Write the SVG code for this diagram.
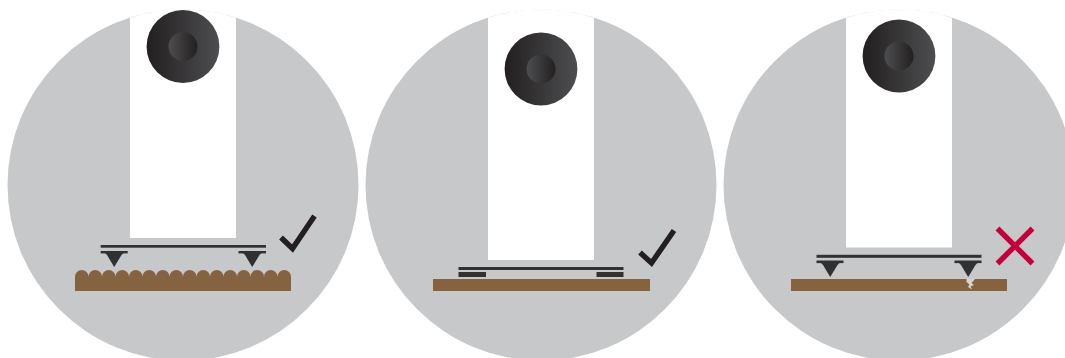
<svg xmlns="http://www.w3.org/2000/svg" width="1065" height="358" viewBox="0 0 1065 358">
<style>
.disc{fill:#c7c8ca}
.slot{fill:#fff}
.wood{fill:#856240}
.steel{fill:#303132}
.check{fill:none;stroke:#231f20;stroke-width:5.4}
.cross{fill:none;stroke:#c4003a;stroke-width:5.4}
</style>
<defs>
<linearGradient id="outer" x1="0" x2="1" y1="0" y2="0"><stop offset="0" stop-color="#231f20"/><stop offset="1" stop-color="#4d4e50"/></linearGradient>
<linearGradient id="inner" x1="0" x2="1" y1="0" y2="0"><stop offset="0" stop-color="#4d4e50"/><stop offset="1" stop-color="#231f20"/></linearGradient>
<g id="ball"><circle r="36.4" fill="url(#outer)"/><circle r="14.5" fill="url(#inner)"/></g>
</defs>
<g id="panel-1">
<circle class="disc" cx="183" cy="185" r="175.5"/>
<path class="slot" d="M130,17.7A175.5,175.5 0 0 1 236,17.7V238H130Z"/>
<use href="#ball" x="183" y="46.5"/>
<rect class="steel" x="100.7" y="245" width="165.3" height="2.7"/>
<rect class="steel" x="100.7" y="251" width="27" height="2.4"/>
<rect class="steel" x="238.5" y="251" width="27.5" height="2.4"/>
<path class="steel" d="M105,253H123.5L121.5,255L114.2,267L107,255Z"/>
<path class="steel" d="M243,253H261.5L259.5,255L252.2,267L245,255Z"/>
<path class="wood" d="M75,291V276.5A6.75,6.5 0 0 1 88.5,276.5A6.75,6.5 0 0 1 102,276.5A6.75,6.5 0 0 1 115.5,276.5A6.75,6.5 0 0 1 129,276.5A6.75,6.5 0 0 1 142.5,276.5A6.75,6.5 0 0 1 156,276.5A6.75,6.5 0 0 1 169.5,276.5A6.75,6.5 0 0 1 183,276.5A6.75,6.5 0 0 1 196.5,276.5A6.75,6.5 0 0 1 210,276.5A6.75,6.5 0 0 1 223.5,276.5A6.75,6.5 0 0 1 237,276.5A6.75,6.5 0 0 1 250.5,276.5A6.75,6.5 0 0 1 264,276.5A6.75,6.5 0 0 1 277.5,276.5A6.75,6.5 0 0 1 291,276.5V291Z"/>
<path class="check" d="M281,237.5L292.5,248.5L314.5,216"/>
</g>
<g id="panel-2">
<circle class="disc" cx="541" cy="185" r="175.5"/>
<path class="slot" d="M488,17.7A175.5,175.5 0 0 1 594,17.7V260H488Z"/>
<use href="#ball" x="541" y="69"/>
<rect class="steel" x="458.5" y="267" width="165" height="3"/>
<rect class="steel" x="458.5" y="272" width="27.5" height="5"/>
<rect class="steel" x="596.5" y="272" width="27" height="5"/>
<rect class="wood" x="433" y="279" width="217" height="12"/>
<path class="check" d="M640,252.5L651.5,263L674,230.5"/>
</g>
<g id="panel-3">
<circle class="disc" cx="899" cy="185" r="175.5"/>
<path class="slot" d="M846,17.7A175.5,175.5 0 0 1 952,17.7V247.5H846Z"/>
<use href="#ball" x="899" y="56"/>
<rect class="steel" x="816.5" y="254.8" width="165" height="3"/>
<rect class="steel" x="816.5" y="260.5" width="27" height="2.6"/>
<rect class="steel" x="954.5" y="260.5" width="27" height="2.6"/>
<path class="steel" d="M821,263H839.5L837.5,265L830.2,277L823,265Z"/>
<path class="steel" d="M959,263H977.5L975.5,265L968.2,277L961,265Z"/>
<rect class="wood" x="791" y="279" width="216" height="12"/>
<path fill="#d6d6d1" d="M966.5,279H975L971.5,283L974,285L970.5,286.5L972,289.5L968,287L969.5,284.5L966.5,282Z"/>
<path class="cross" d="M997.5,228.5L1032.5,263.5M1032.5,228.5L997.5,263.5"/>
</g>
</svg>
